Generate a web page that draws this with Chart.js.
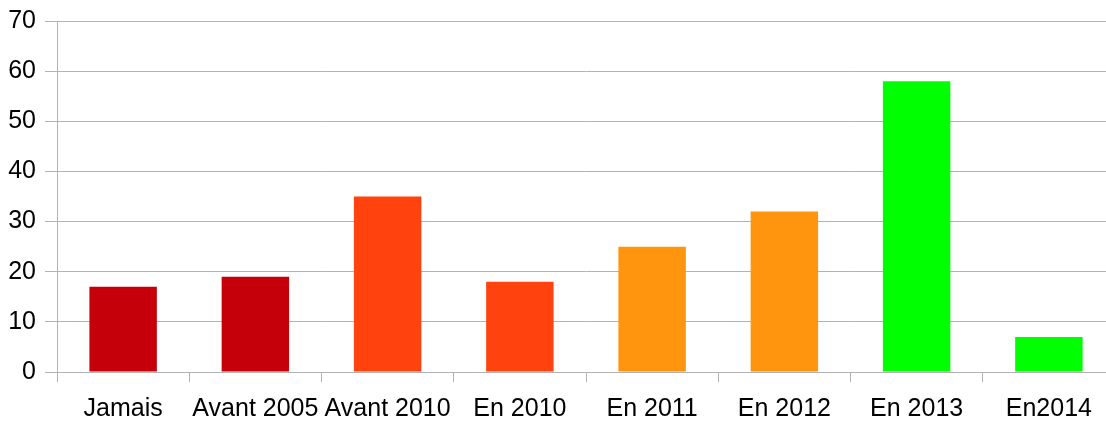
<!DOCTYPE html>
<html>
<head>
<meta charset="utf-8">
<script src="https://cdn.jsdelivr.net/npm/chart.js@4/dist/chart.umd.min.js"></script>
<style>
  html, body { margin: 0; padding: 0; background: #fff; overflow: hidden; }
  /* plot runs a little past the right edge in the original */
  #wrap { width: 1115px; height: 424px; margin-top: -3px; }
</style>
</head>
<body>
<div id="wrap"><canvas id="barChart"></canvas></div>
<script>
const categories = ['Jamais', 'Avant 2005', 'Avant 2010', 'En 2010', 'En 2011', 'En 2012', 'En 2013', 'En2014'];
const values = [17, 19, 35, 18, 25, 32, 58, 7];
const yTicks = [0, 10, 20, 30, 40, 50, 60, 70];

const barColors = ['#C5000B', '#C5000B', '#FF420E', '#FF420E', '#FF950E', '#FF950E', '#00FF00', '#00FF00'];
const gridColor = '#b3b3b3';

const ctx = document.getElementById('barChart').getContext('2d');

new Chart(ctx, {
  type: 'bar',
  data: {
    labels: categories,
    datasets: [{
      data: values,
      backgroundColor: barColors,
      borderWidth: 0,
      barPercentage: 0.51,
      categoryPercentage: 1,
    }],
  },
  options: {
    responsive: true,
    maintainAspectRatio: false,
    animation: false,
    layout: {
      padding: { top: 17, right: 0, left: 0, bottom: 0 },
    },
    plugins: {
      legend: { display: false },
      title: { display: false },
      tooltip: { enabled: false },
    },
    scales: {
      x: {
        offset: true,
        grid: {
          offset: true,
          drawOnChartArea: false,
          drawTicks: true,
          tickLength: 10,
          color: gridColor,
        },
        border: { color: gridColor },
        ticks: {
          color: '#000',
          padding: 12,
          maxRotation: 0,
          autoSkip: false,
          font: { family: 'Liberation Sans', size: 25 },
        },
        afterFit(scale) {
          scale.height = 49;
        },
      },
      y: {
        min: yTicks[0],
        max: yTicks[yTicks.length - 1],
        afterBuildTicks(scale) {
          scale.ticks = yTicks.map(v => ({ value: v }));
        },
        grid: {
          color: gridColor,
          tickLength: 12,
        },
        border: { color: gridColor },
        ticks: {
          color: '#000',
          padding: 9,
          font: { family: 'Liberation Sans', size: 25 },
        },
        afterFit(scale) {
          scale.width = 57;
        },
      },
    },
  },
});
</script>
</body>
</html>
